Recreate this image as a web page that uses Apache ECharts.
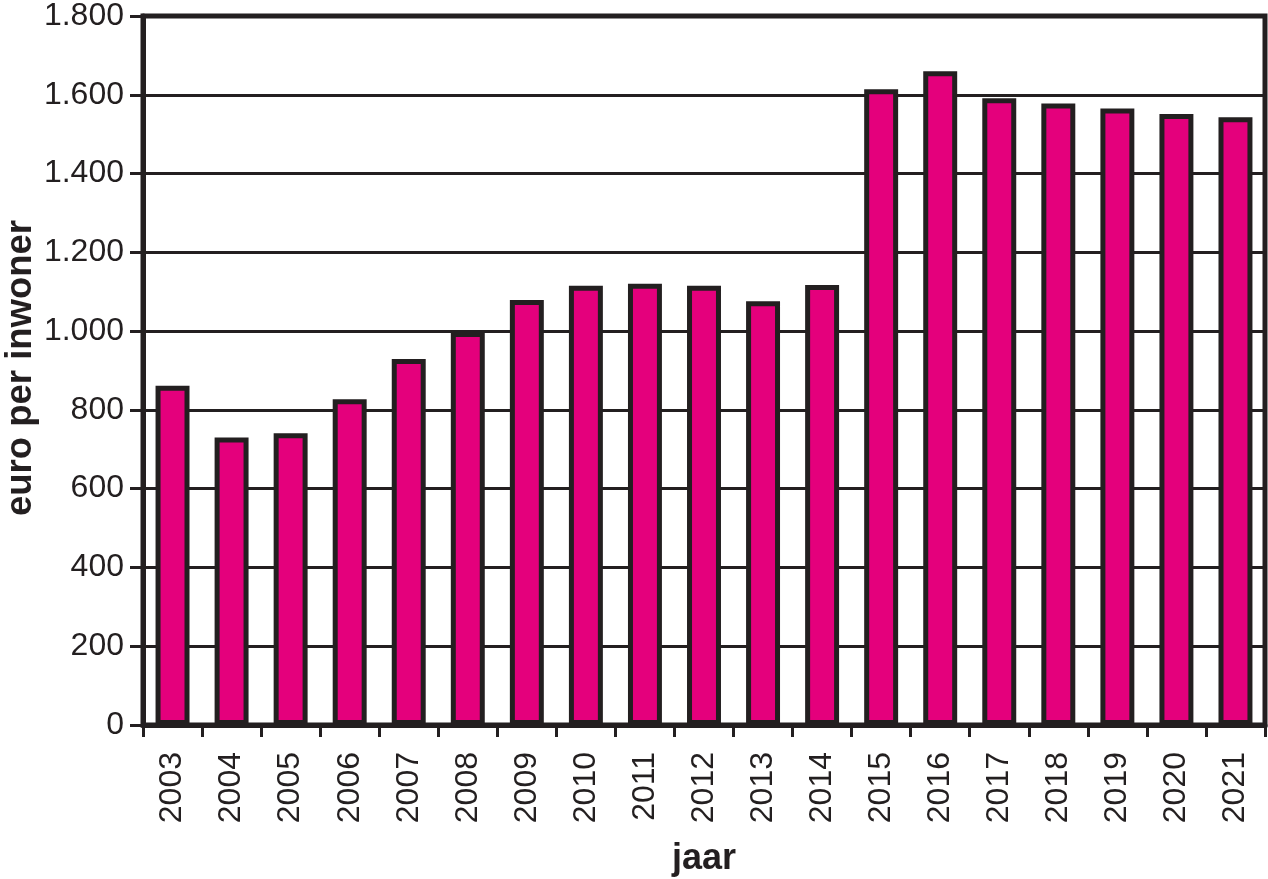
<!DOCTYPE html>
<html>
<head>
<meta charset="utf-8">
<script src="https://cdn.jsdelivr.net/npm/echarts@6/dist/echarts.min.js"></script>
<style>
html,body{margin:0;padding:0;background:#fff;}
#chart{width:1268px;height:879px;}
</style>
</head>
<body>
<div id="chart"></div>
<script>
const categories = ['2003','2004','2005','2006','2007','2008','2009','2010','2011','2012','2013','2014','2015','2016','2017','2018','2019','2020','2021'];
const values = [861, 730, 741, 827, 929, 998, 1079, 1115, 1120, 1115, 1076, 1117, 1614, 1660, 1591, 1578, 1565, 1551, 1543];
const yAxisTitle = 'euro per inwoner';
const xAxisTitle = 'jaar';

const dark = '#231f20';
const font = '"Liberation Sans", Arial, Helvetica, sans-serif';

const chart = echarts.init(document.getElementById('chart'), null, {renderer: 'canvas'});
chart.setOption({
  animation: false,
  backgroundColor: '#ffffff',
  grid: {
    left: 143, right: 3, top: 16, bottom: 154,
    containLabel: false,
    outerBoundsMode: 'none',
    show: true, borderColor: dark, borderWidth: 5, backgroundColor: 'transparent'
  },
  graphic: [{
    type: 'text',
    x: 21, y: 368,
    rotation: Math.PI / 2,
    style: {
      text: yAxisTitle,
      fontFamily: font, fontSize: 36.5, fontWeight: 'bold', fill: dark,
      align: 'center', verticalAlign: 'middle'
    }
  }],
  xAxis: {
    type: 'category',
    data: categories,
    name: xAxisTitle,
    nameLocation: 'middle',
    nameGap: 116,
    nameTextStyle: {fontFamily: font, fontSize: 36, fontWeight: 'bold', color: dark},
    axisLine: {show: true, lineStyle: {color: dark, width: 5}},
    axisTick: {show: true, length: 12, lineStyle: {color: dark, width: 3}},
    axisLabel: {rotate: 90, margin: 27, fontFamily: font, fontSize: 32, color: dark}
  },
  yAxis: {
    type: 'value',
    min: 0, max: 1800, interval: 200,
    axisLine: {show: true, lineStyle: {color: dark, width: 5}},
    axisTick: {show: true, length: 13, lineStyle: {color: dark, width: 3}},
    axisLabel: {
      margin: 19, fontFamily: font, fontSize: 32, color: dark,
      formatter: v => String(v).replace(/\B(?=(\d{3})+(?!\d))/g, '.')
    },
    splitLine: {show: true, lineStyle: {color: dark, width: 3}}
  },
  series: [{
    type: 'bar',
    data: values,
    barWidth: '57.5%',
    itemStyle: {color: '#e4007c', borderColor: dark, borderWidth: 5}
  }]
});
</script>
</body>
</html>
